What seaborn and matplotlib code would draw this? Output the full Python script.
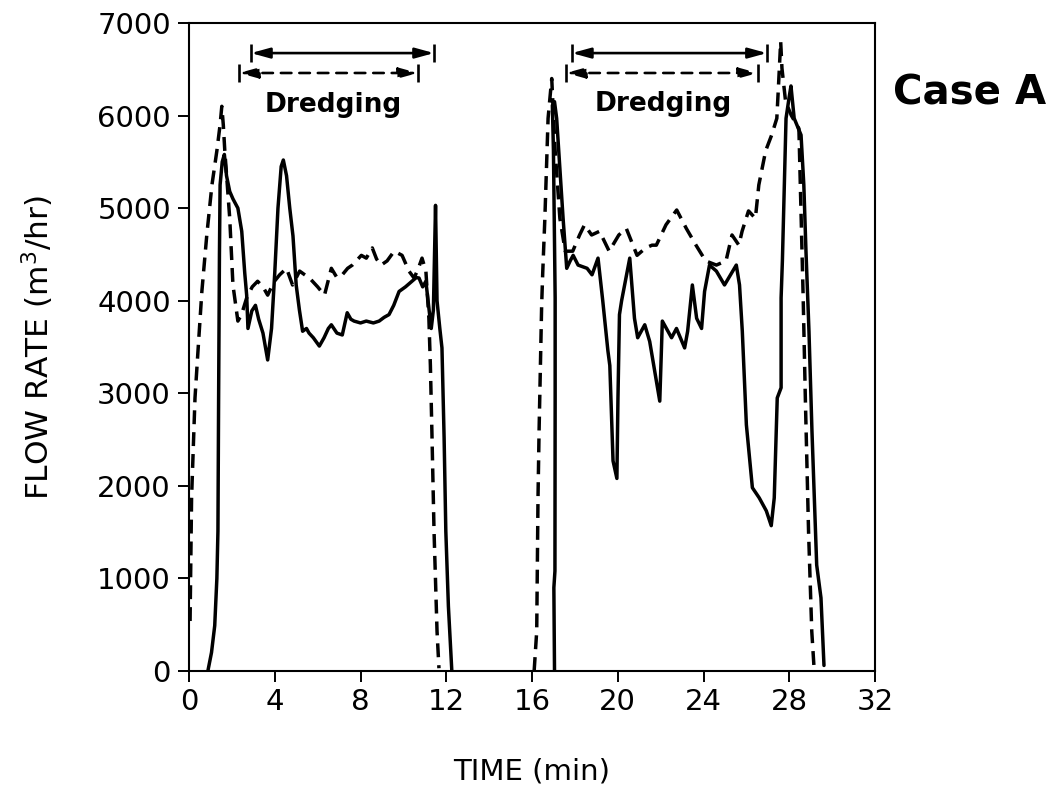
import matplotlib
matplotlib.use("Agg")
import matplotlib.pyplot as plt
import seaborn as sns
import pandas as pd
import numpy as np

# ---------------- data ----------------
# solid curve, first cycle
solid1_t = [0.88, 1.05, 1.2, 1.3, 1.35, 1.38, 1.42, 1.45, 1.55, 1.65, 1.75, 1.9, 2.05, 2.28, 2.46,
            2.6, 2.69, 2.75, 2.93, 3.1, 3.25, 3.45, 3.67, 3.85, 4.0, 4.15, 4.3, 4.4, 4.55, 4.7,
            4.85, 5.0, 5.15, 5.3, 5.48, 5.6, 5.8, 6.08, 6.3, 6.5, 6.64, 6.9, 7.15, 7.38, 7.55,
            7.7, 8.0, 8.27, 8.6, 8.87, 9.1, 9.33, 9.55, 9.8, 10.1, 10.4, 10.6, 10.73, 10.9, 11.05,
            11.2, 11.3, 11.4, 11.5, 11.57, 11.7, 11.8, 11.9, 11.98, 12.1, 12.26]
solid1_v = [0, 200, 490, 1000, 1510, 2900, 4500, 5250, 5500, 5580, 5350, 5180, 5100, 5000, 4750,
            4300, 4060, 3700, 3890, 3950, 3800, 3650, 3360, 3700, 4300, 5000, 5450, 5520, 5350, 5000,
            4700, 4170, 3900, 3670, 3700, 3650, 3600, 3510, 3600, 3700, 3740, 3650, 3630, 3870, 3800,
            3780, 3760, 3780, 3760, 3780, 3820, 3850, 3950, 4100, 4150, 4210, 4250, 4245, 4150, 4210,
            3900, 3700, 3900, 5030, 4000, 3700, 3490, 2520, 1510, 700, 0]

# dashed curve, first cycle
dashed1_t = [0.05, 0.12, 0.28, 0.42, 0.6, 0.83, 1.07, 1.3, 1.45, 1.53, 1.6, 1.67, 1.9, 2.05, 2.28,
             2.45, 2.69, 2.95, 3.2, 3.45, 3.67, 3.95, 4.23, 4.55, 4.83, 5.16, 5.4, 5.62, 6.0, 6.32,
             6.64, 6.9, 7.15, 7.4, 7.62, 8.04, 8.27, 8.55, 8.75, 8.96, 9.24, 9.57, 9.94, 10.26, 10.5,
             10.7, 10.87, 11.05, 11.19, 11.26, 11.33, 11.43, 11.57, 11.66]
dashed1_v = [540, 1870, 2950, 3460, 4100, 4710, 5250, 5620, 5900, 6100, 5900, 5620, 4890, 4170, 3780,
             3850, 4030, 4150, 4210, 4150, 4060, 4200, 4280, 4350, 4170, 4320, 4280, 4245, 4150, 4060,
             4350, 4250, 4280, 4350, 4385, 4490, 4460, 4570, 4450, 4385, 4430, 4535, 4490, 4320, 4245,
             4350, 4460, 4320, 3810, 3300, 2590, 1510, 430, 30]

# solid curve, second cycle
solid2_t = [17.05, 17.02, 17.07, 17.08, 17.08, 17.0, 16.95, 17.05, 17.15, 17.3, 17.45, 17.62, 17.78,
            17.92, 18.15, 18.57, 18.8, 19.08, 19.3, 19.54, 19.63, 19.78, 19.96, 20.01, 20.08, 20.18,
            20.56, 20.78, 20.93, 21.26, 21.49, 21.96, 22.08, 22.51, 22.74, 23.12, 23.26, 23.48, 23.68,
            23.91, 24.05, 24.28, 24.6, 24.98, 25.53, 25.68, 25.81, 26.0, 26.28, 26.6, 26.93, 27.16,
            27.3, 27.44, 27.62, 27.62, 27.68, 27.85, 27.99, 28.08, 28.23, 28.55, 28.68, 28.78, 28.92,
            29.06, 29.28, 29.48, 29.62]
solid2_v = [0, 900, 1080, 2950, 4030, 5620, 6110, 6150, 5970, 5430, 4890, 4350, 4430,
            4490, 4385, 4350, 4280, 4460, 4000, 3460, 3300, 2270, 2080, 2950, 3850, 4000,
            4460, 3810, 3600, 3740, 3560, 2915, 3780, 3600, 3700, 3490, 3670, 4170, 3810,
            3700, 4100, 4385, 4320, 4170, 4385, 4170, 3670, 2660, 1980, 1870, 1730, 1570,
            1870, 2950, 3060, 4030, 4430, 5970, 6190, 6320, 5970, 5790, 5250, 4535, 3670,
            2590, 1145, 790, 60]

# dashed curve, second cycle
dashed2_t = [16.1, 16.22, 16.28, 16.33, 16.45, 16.5, 16.6, 16.75, 16.92, 17.08, 17.3, 17.55, 17.9,
             18.22, 18.45, 18.78, 19.15, 19.6, 20.05, 20.4, 20.9, 21.3, 21.6, 21.8, 22.25, 22.75,
             23.2, 23.65, 24.1, 24.6, 25.05, 25.33, 25.65, 25.8, 26.1, 26.42, 26.58, 26.9, 27.18,
             27.42, 27.5, 27.6, 27.66, 27.83, 28.1, 28.45, 28.65, 28.75, 28.9, 29.05, 29.15]
dashed2_v = [0, 430, 1870, 2590, 3950, 4300, 4890, 5970, 6400, 5620, 4890, 4535, 4535,
             4710, 4820, 4710, 4750, 4535, 4710, 4780, 4490, 4570, 4600, 4600, 4820, 4980,
             4780, 4600, 4430, 4385, 4430, 4710, 4600, 4750, 4970, 4890, 5250, 5620, 5790,
             5970, 6330, 6800, 6510, 6150, 6000, 5860, 4030, 2950, 1510, 430, 60]

# dredging periods (start, end, level)
dredge_solid_start = [2.89, 17.86]
dredge_solid_end = [11.43, 26.96]
dredge_solid_level = [6675, 6675]
dredge_dashed_start = [2.33, 17.58]
dredge_dashed_end = [10.68, 26.54]
dredge_dashed_level = [6460, 6460]
dredge_label_t = [6.72, 22.1]
dredge_label_v = [6110, 6130]
dredge_label = "Dredging"

x_ticks = [0, 4, 8, 12, 16, 20, 24, 28, 32]
y_ticks = [0, 1000, 2000, 3000, 4000, 5000, 6000, 7000]

# ---------------- build long-form table ----------------
frames = []
for t, v, s, c in [(solid1_t, solid1_v, "solid", "solid-1"),
                   (dashed1_t, dashed1_v, "dashed", "dashed-1"),
                   (solid2_t, solid2_v, "solid", "solid-2"),
                   (dashed2_t, dashed2_v, "dashed", "dashed-2")]:
    frames.append(pd.DataFrame({"time": t, "flow": v, "series": s, "cycle": c}))
df = pd.concat(frames, ignore_index=True)

# ---------------- plot ----------------
sns.set_theme(style="ticks")
plt.rcParams["font.family"] = ["DejaVu Sans"]

fig = plt.figure(figsize=(10.54, 7.91), dpi=100)
ax = fig.add_axes([189 / 1054, 1 - 671 / 791, (875 - 189) / 1054, (671 - 23) / 791])

sns.lineplot(data=df, x="time", y="flow", style="series", units="cycle",
             estimator=None, sort=False, color="black", linewidth=2.5,
             dashes={"solid": "", "dashed": (4, 2.3)}, legend=False, ax=ax)

# dredging arrows
for xs, xe, yy, ls in [(dredge_solid_start, dredge_solid_end, dredge_solid_level, "-"),
                       (dredge_dashed_start, dredge_dashed_end, dredge_dashed_level, (0, (4, 3)))]:
    for a, b, y in zip(xs, xe, yy):
        ax.annotate("", xy=(b, y), xytext=(a, y),
                    arrowprops=dict(arrowstyle="<|-|>,head_length=0.8,head_width=0.22",
                                    color="black", lw=1.9, linestyle=ls,
                                    shrinkA=0, shrinkB=0, mutation_scale=14))
        ax.plot([a, b], [y, y], linestyle="none", marker="|", markersize=13,
                markeredgewidth=1.9, color="black")

for t, v in zip(dredge_label_t, dredge_label_v):
    ax.text(t, v, dredge_label, ha="center", va="center", fontsize=19,
            fontweight="bold", color="black")

fig.text(0.92, 0.882, "Case A", ha="center", va="center", fontsize=29,
         fontweight="bold", color="black")

ax.set_xlim(0, 32)
ax.set_ylim(0, 7000)
ax.set_xticks(x_ticks)
ax.set_yticks(y_ticks)
ax.set_xticklabels([str(x) for x in x_ticks])
ax.set_yticklabels([str(y) for y in y_ticks])
ax.tick_params(direction="out", length=8, width=1.4, labelsize=21, color="black",
               labelcolor="black")
ax.tick_params(axis="x", pad=4)
ax.tick_params(axis="y", pad=5)
for sp in ax.spines.values():
    sp.set_visible(True)
    sp.set_linewidth(1.5)
    sp.set_color("black")

ax.set_xlabel("TIME (min)", fontsize=21, labelpad=30, color="black")
ax.set_ylabel(r"FLOW RATE (m$^3$/hr)", fontsize=22.5, labelpad=30, color="black")

fig.savefig("out.png", dpi=100, facecolor="white")
